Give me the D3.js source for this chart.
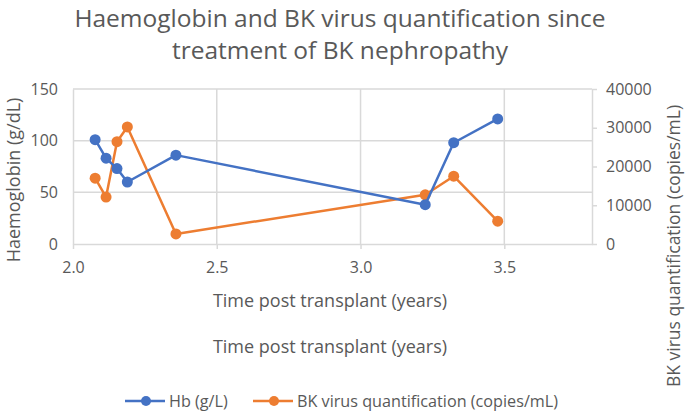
<!DOCTYPE html>
<html>
<head>
<meta charset="utf-8">
<script src="https://cdn.jsdelivr.net/npm/d3@7"></script>
<style>
  body { margin: 0; background: #fff; }
  svg { font-family: "Open Sans", "Noto Sans", sans-serif; }
</style>
</head>
<body>
<svg id="chart" width="685" height="411"></svg>
<script>
// ---- Data ----
const timeYears = [2.077, 2.115, 2.153, 2.189, 2.358, 3.225, 3.324, 3.477];
const hbValues = [101, 83, 73, 60, 86, 38, 98, 121];
const bkValues = [17000, 12100, 26400, 30200, 2600, 12700, 17500, 5900];
const xTicks = [2.0, 2.5, 3.0, 3.5];
const leftTicks = [0, 50, 100, 150];
const rightTicks = [0, 10000, 20000, 30000, 40000];
const seriesNames = ["Hb (g/L)", "BK virus quantification (copies/mL)"];
const titleLines = ["Haemoglobin and BK virus quantification since", "treatment of BK nephropathy"];
const xTitle = "Time post transplant (years)";
const yLeftTitle = "Haemoglobin (g/dL)";
const yRightTitle = "BK virus quantification (copies/mL)";

// ---- Layout ----
const svg = d3.select("#chart");
const textCol = "#595959", gridCol = "#d9d9d9";
const blue = "#4472C4", orange = "#ED7D31";
const plot = { left: 73, right: 592, top: 89, bottom: 244 };

const x = d3.scaleLinear().domain([2.0, 3.805]).range([plot.left, plot.right]);
const yL = d3.scaleLinear().domain([0, 150]).range([plot.bottom, plot.top]);
const yR = d3.scaleLinear().domain([0, 40000]).range([plot.bottom, plot.top]);

// Title
svg.append("g").selectAll("text").data(titleLines).join("text")
  .attr("x", 340).attr("y", (d, i) => 27 + i * 32)
  .attr("text-anchor", "middle").attr("fill", textCol)
  .attr("font-size", 24.5).text(d => d);

// Gridlines
const grid = svg.append("g");
grid.selectAll("line.h").data(leftTicks.filter(d => d > 0)).join("line")
  .attr("x1", plot.left).attr("x2", plot.right)
  .attr("y1", d => yL(d)).attr("y2", d => yL(d))
  .attr("stroke", gridCol).attr("stroke-width", 1.5);
grid.selectAll("line.v").data(xTicks.filter(d => d > 2.0)).join("line")
  .attr("x1", d => x(d)).attr("x2", d => x(d))
  .attr("y1", plot.top).attr("y2", plot.bottom)
  .attr("stroke", gridCol).attr("stroke-width", 1.5);

// Axes
function styleAxis(g) {
  g.select(".domain").attr("stroke", gridCol).attr("stroke-width", 1.5);
  g.selectAll(".tick line").attr("stroke", gridCol).attr("stroke-width", 1.5);
  g.selectAll(".tick text").attr("fill", textCol).attr("font-size", 16)
    .attr("font-family", "'Open Sans', sans-serif");
}
svg.append("g").attr("transform", `translate(0,${plot.bottom})`)
  .call(d3.axisBottom(x).tickValues(xTicks).tickFormat(d3.format(".1f")).tickSize(5).tickSizeOuter(0).tickPadding(13))
  .call(styleAxis);
svg.append("g").attr("transform", `translate(${plot.left},0)`)
  .call(d3.axisLeft(yL).tickValues(leftTicks).tickSize(0).tickPadding(15))
  .call(styleAxis);
svg.append("g").attr("transform", `translate(${plot.right},0)`)
  .call(d3.axisRight(yR).tickValues(rightTicks).tickFormat(d3.format("d")).tickSize(5).tickSizeOuter(0).tickPadding(9))
  .call(styleAxis);

// Axis titles
svg.append("text").attr("x", 330).attr("y", 307).attr("text-anchor", "middle")
  .attr("fill", textCol).attr("font-size", 18).text(xTitle);
svg.append("text").attr("x", 330).attr("y", 353).attr("text-anchor", "middle")
  .attr("fill", textCol).attr("font-size", 18).text(xTitle);
svg.append("text").attr("transform", "translate(19.5,180) rotate(-90)").attr("text-anchor", "middle")
  .attr("fill", textCol).attr("font-size", 18).text(yLeftTitle);
svg.append("text").attr("transform", "translate(680,246) rotate(-90)").attr("text-anchor", "middle")
  .attr("fill", textCol).attr("font-size", 17.5).text(yRightTitle);

// Series
const hbData = timeYears.map((t, i) => ({ t, v: hbValues[i] }));
const bkData = timeYears.map((t, i) => ({ t, v: bkValues[i] }));
function drawSeries(data, yScale, color) {
  const g = svg.append("g");
  g.append("path").datum(data)
    .attr("d", d3.line().x(d => x(d.t)).y(d => yScale(d.v)))
    .attr("fill", "none").attr("stroke", color).attr("stroke-width", 2.5)
    .attr("stroke-linejoin", "round");
  g.selectAll("circle").data(data).join("circle")
    .attr("cx", d => x(d.t)).attr("cy", d => yScale(d.v)).attr("r", 5.5)
    .attr("fill", color);
}
drawSeries(bkData, yR, orange);
drawSeries(hbData, yL, blue);

// Legend
const legend = svg.append("g");
const items = [{ name: seriesNames[0], color: blue, x0: 125 }, { name: seriesNames[1], color: orange, x0: 253 }];
items.forEach(it => {
  legend.append("line").attr("x1", it.x0).attr("x2", it.x0 + 40).attr("y1", 401).attr("y2", 401)
    .attr("stroke", it.color).attr("stroke-width", 2.5);
  legend.append("circle").attr("cx", it.x0 + 21).attr("cy", 401).attr("r", 5).attr("fill", it.color);
  legend.append("text").attr("x", it.x0 + 44).attr("y", 407).attr("fill", textCol)
    .attr("font-size", 16.2).text(it.name);
});
</script>
</body>
</html>
